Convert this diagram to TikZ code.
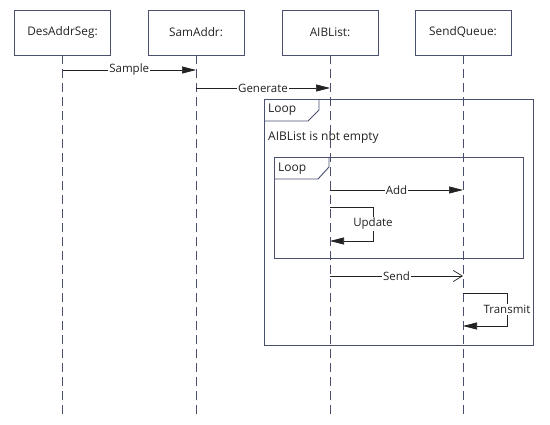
\documentclass[tikz,border=0pt]{standalone}
\usepackage{fontspec}
\setmainfont{Open Sans}
\usetikzlibrary{arrows.meta,calc}
\definecolor{frm}{HTML}{4A4F6E}
\definecolor{txt}{HTML}{222222}
\tikzset{
  objbox/.style={draw=frm, line width=0.9pt, minimum width=96pt, minimum height=45pt, inner sep=0pt, font=\fontsize{11.8}{13}\selectfont, text=txt},
  lifeline/.style={draw=frm, line width=0.9pt, dash pattern=on 9pt off 5pt},
  msg/.style={draw=txt, line width=0.7pt, -{Triangle[length=14pt,width=7pt]}},
  openmsg/.style={draw=txt, line width=0.7pt, -{Straight Barb[length=9pt,width=11pt,line width=0.7pt]}},
  mlabel/.style={fill=white, inner sep=1pt, font=\fontsize{11.5}{13}\selectfont, text=txt},
  frame/.style={draw=frm, line width=0.9pt},
  flabel/.style={anchor=west, inner sep=0pt, font=\fontsize{12}{14}\selectfont, text=txt},
}
\begin{document}
\begin{tikzpicture}[x=1pt,y=-1pt]
\useasboundingbox (0,0) rectangle (550,425);
% objects
\node[objbox] (d) at (62.5,32.5) {DesAddrSeg:};
\node[objbox] (s) at (196,32.5) {SamAddr:};
\node[objbox] (a) at (330,32.5) {AIBList:};
\node[objbox] (q) at (463,32.5) {SendQueue:};
% lifeline ends
\coordinate (dE) at (62.5,418);
\coordinate (sE) at (196,418);
\coordinate (aE) at (330,418);
\coordinate (qE) at (463,418);
% frames
\draw[frame] (264,99) rectangle (533,345);
\draw[frame] (264,121) -- (308,121) -- (319,110) -- (319,99);
\node[flabel] (l1) at (268,110) {Loop};
\node[flabel] (c1) at (268,137) {AIBList is nbt empty};
\draw[frame] (274,157) rectangle (523,258);
\draw[frame] (274,179) -- (318,179) -- (329,167) -- (329,157);
\node[flabel] (l2) at (278,168.5) {Loop};
% lifelines
\draw[lifeline] (d.south) -- (dE);
\draw[lifeline] (s.south) -- (sE);
\draw[lifeline] (a.south) -- (aE);
\draw[lifeline] (q.south) -- (qE);
% message points
\coordinate (m1a) at (62.5,70); \coordinate (m1b) at (196,70);
\coordinate (m2a) at (196,88); \coordinate (m2b) at (330,88);
\coordinate (m3a) at (330,190); \coordinate (m3b) at (463,190);
\coordinate (u1) at (330,207); \coordinate (u2) at (373,207);
\coordinate (u3) at (373,241); \coordinate (u4) at (330,241);
\coordinate (m5a) at (330,276); \coordinate (m5b) at (463,276);
\coordinate (t1) at (463,293); \coordinate (t2) at (507,293);
\coordinate (t3) at (507,326); \coordinate (t4) at (463,326);
% messages
\draw[msg] (m1a) -- node[mlabel] (sample) {Sample} (m1b);
\draw[msg] (m2a) -- node[mlabel] (generate) {Generate} (m2b);
\draw[msg] (m3a) -- node[mlabel] (add) {Add} (m3b);
\draw[msg] (u1) -- (u2) -- (u3) -- (u4);
\node[mlabel] (update) at ($(u2)!0.5!(u3)$) {Update};
\draw[openmsg] (m5a) -- node[mlabel] (send) {Send} (m5b);
\draw[msg] (t1) -- (t2) -- (t3) -- (t4);
\node[mlabel] (transmit) at ($(t2)!0.5!(t3)$) {Transmit};
\end{tikzpicture}
\end{document}
